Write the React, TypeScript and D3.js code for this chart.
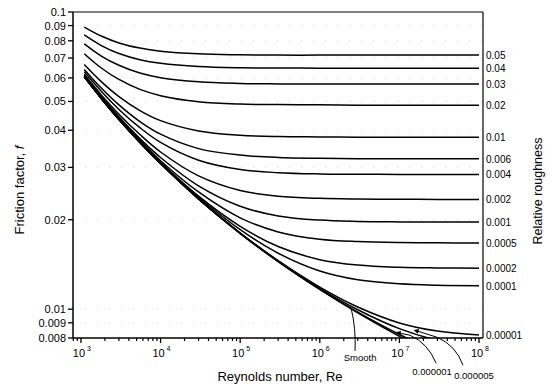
// Moody-type friction factor chart (Colebrook curves) drawn with d3 scales
import * as d3 from "d3"

const reynolds = [1100, 1800, 3000, 5500, 1e4, 3e4, 1e5, 3e5, 1e6, 3e6, 1e7, 3e7, 1e8]

// friction factor read for each relative roughness
const f0_05 = [0.089, 0.083, 0.0787, 0.0756, 0.0738, 0.0723, 0.0718, 0.0716, 0.0716, 0.0716, 0.0716, 0.0716, 0.0716]
const f0_04 = [0.0837, 0.0771, 0.0725, 0.0691, 0.0672, 0.0655, 0.0649, 0.0648, 0.0647, 0.0647, 0.0647, 0.0647, 0.0647]
const f0_03 = [0.0781, 0.0711, 0.0662, 0.0623, 0.0601, 0.0582, 0.0575, 0.0573, 0.0572, 0.0572, 0.0572, 0.0572, 0.0572]
const f0_02 = [0.0724, 0.0648, 0.0593, 0.0549, 0.0523, 0.0499, 0.049, 0.0488, 0.0487, 0.0486, 0.0486, 0.0486, 0.0486]
const f0_01 = [0.0666, 0.0583, 0.0519, 0.0466, 0.0431, 0.0398, 0.0385, 0.0381, 0.038, 0.0379, 0.0379, 0.0379, 0.0379]
const f0_006 = [0.0641, 0.0555, 0.0487, 0.0428, 0.0388, 0.0347, 0.033, 0.0324, 0.0322, 0.0321, 0.0321, 0.0321, 0.0321]
const f0_004 = [0.0629, 0.0541, 0.047, 0.0408, 0.0364, 0.0317, 0.0295, 0.0288, 0.02853, 0.02846, 0.0284, 0.0284, 0.0284]
const f0_002 = [0.0617, 0.0526, 0.0453, 0.0387, 0.0338, 0.0281, 0.0251, 0.024, 0.0236, 0.02348, 0.02344, 0.0234, 0.0234]
const f0_001 = [0.0612, 0.0519, 0.0444, 0.0375, 0.0324, 0.026, 0.0222, 0.0206, 0.01994, 0.01974, 0.01967, 0.01965, 0.01964]
const f0_0005 = [0.0609, 0.0515, 0.044, 0.037, 0.0316, 0.0248, 0.0203, 0.0182, 0.0172, 0.01688, 0.01675, 0.01672, 0.0167]
const f0_0002 = [0.0606, 0.0513, 0.0437, 0.0366, 0.0312, 0.024, 0.019, 0.01625, 0.01468, 0.01408, 0.01384, 0.01377, 0.01374]
const f0_0001 = [0.0606, 0.0512, 0.0436, 0.0365, 0.031, 0.0238, 0.01852, 0.01543, 0.01344, 0.01256, 0.01217, 0.01204, 0.012]
const f0_00001 = [0.0605, 0.0512, 0.0435, 0.0364, 0.0309, 0.0235, 0.01805, 0.01457, 0.01187, 0.01017, 0.00899, 0.00844, 0.00819]
const f0_000005 = [0.0605, 0.0512, 0.0435, 0.0364, 0.0309, 0.0235, 0.018, 0.01452, 0.01176, 0.00996, 0.0086, 0.00786, 0.00747]
const f0_000001 = [0.0605, 0.0512, 0.0435, 0.0364, 0.0309, 0.0235, 0.018, 0.01447, 0.01167, 0.00977, 0.00822, 0.00718, 0.00643]
const fSmooth = [0.0605, 0.0512, 0.0435, 0.0364, 0.0309, 0.0235, 0.018, 0.01446, 0.01165, 0.00972, 0.0081, 0.00695, 0.00594]

// curves labelled at the right edge
const rightLabels = ["0.05", "0.04", "0.03", "0.02", "0.01", "0.006", "0.004", "0.002", "0.001", "0.0005", "0.0002", "0.0001", "0.00001"]
const rightSeries = [f0_05, f0_04, f0_03, f0_02, f0_01, f0_006, f0_004, f0_002, f0_001, f0_0005, f0_0002, f0_0001, f0_00001]
const allSeries = [...rightSeries, f0_000005, f0_000001, fSmooth]

// axis ticks
const yTicks = [0.1, 0.09, 0.08, 0.07, 0.06, 0.05, 0.04, 0.03, 0.02, 0.01, 0.009, 0.008]
const yTickLabels = ["0.1", "0.09", "0.08", "0.07", "0.06", "0.05", "0.04", "0.03", "0.02", "0.01", "0.009", "0.008"]
const xDecades = [3, 4, 5, 6, 7, 8]

// callouts below the plot: point on curve (Re, f)
const callouts = [
  { text: "Smooth", re: 2.47e6, f: 0.0101, arrow: false, path: "M0,0 Q5,20 4,43", lx: 9, ly: 53 },
  { text: "0.000001", re: 1.02e7, f: 0.0083, arrow: true, path: "M0,0 L10,2 Q28,10 36,30", lx: 32, ly: 42 },
  { text: "0.000005", re: 1.71e7, f: 0.00843, arrow: true, path: "M0,0 L19,6 Q38,14 45,34", lx: 56, ly: 48 },
]

const W = 552
const H = 387
const margin = { top: 12, right: 69, bottom: 49, left: 73 }
const FONT = "'Liberation Sans', Arial, Helvetica, sans-serif"

export default function App() {
  const left = margin.left
  const right = W - margin.right
  const top = margin.top
  const bottom = H - margin.bottom

  const x = d3.scaleLog().domain([10 ** 2.9, 10 ** 8.05]).range([left, right])
  const y = d3.scaleLog().domain([0.008, 0.1]).range([bottom, top])

  const line = d3.line<number>()
    .x((_, i) => x(reynolds[i]))
    .y(d => y(d))
    .curve(d3.curveCatmullRom.alpha(0.5))

  // minor ticks on the Re axis
  const minor: number[] = []
  for (let e = 2; e <= 8; e++) {
    for (let m = 2; m <= 9; m++) {
      const v = m * 10 ** e
      if (v >= x.domain()[0] && v <= x.domain()[1]) minor.push(v)
    }
  }

  return (
    <svg width={W} height={H} style={{ position: "absolute", left: 0, top: 0, background: "#fff" }} fontFamily={FONT}>
      <defs>
        <clipPath id="plot">
          <rect x={left} y={top} width={right - left} height={bottom - top} />
        </clipPath>
        <marker id="arrow" viewBox="0 0 10 10" refX="1" refY="5" markerWidth="7" markerHeight="5" orient="auto-start-reverse">
          <path d="M0,0 L10,5 L0,10 z" fill="#000" />
        </marker>
      </defs>

      {/* faint dotted grid */}
      {yTicks.slice(1, -1).map(t => (
        <line key={t} x1={left} x2={right} y1={y(t)} y2={y(t)} stroke="#777" strokeWidth={1} strokeDasharray="1 11" opacity={0.35} />
      ))}

      {/* curves */}
      <g clipPath="url(#plot)">
        {allSeries.map((s, i) => (
          <path key={i} d={line(s) ?? ""} fill="none" stroke="#000" strokeWidth={1.5} />
        ))}
      </g>

      {/* frame */}
      <line x1={left} x2={right} y1={top} y2={top} stroke="#000" strokeWidth={1.2} />
      <line x1={left} x2={left} y1={top} y2={bottom} stroke="#000" strokeWidth={1.5} />
      <line x1={right} x2={right} y1={top} y2={bottom} stroke="#000" strokeWidth={1.2} />
      <line x1={left} x2={right} y1={bottom} y2={bottom} stroke="#000" strokeWidth={1.5} />

      {/* y axis */}
      {yTicks.map((t, i) => (
        <g key={t}>
          <line x1={left - 5} x2={left} y1={y(t)} y2={y(t)} stroke="#000" strokeWidth={1.3} />
          <text x={left - 7} y={y(t) + 4} fontSize={11} textAnchor="end">{yTickLabels[i]}</text>
        </g>
      ))}

      {/* x axis */}
      {minor.map(v => (
        <line key={v} x1={x(v)} x2={x(v)} y1={bottom} y2={bottom + 3} stroke="#000" strokeWidth={1.2} />
      ))}
      {xDecades.map(e => (
        <g key={e}>
          <line x1={x(10 ** e)} x2={x(10 ** e)} y1={bottom} y2={bottom + 5} stroke="#000" strokeWidth={1.3} />
          <text x={x(10 ** e) - 2} y={bottom + 19} fontSize={11} textAnchor="middle">10</text>
          <text x={x(10 ** e) + 6} y={bottom + 13} fontSize={7}>{e}</text>
        </g>
      ))}

      {/* right-hand roughness labels */}
      {rightSeries.map((s, i) => (
        <text key={i} x={right + 3} y={y(s[s.length - 1]) + 4} fontSize={10}>{rightLabels[i]}</text>
      ))}

      {/* callouts */}
      {callouts.map(c => {
        const cx = x(c.re)
        const cy = y(c.f)
        return (
          <g key={c.text} transform={`translate(${cx},${cy})`}>
            <path d={c.path} fill="none" stroke="#000" strokeWidth={1} markerStart={c.arrow ? "url(#arrow)" : undefined} />
            <text x={c.lx} y={c.ly} fontSize={9.5} textAnchor="middle">{c.text}</text>
          </g>
        )
      })}

      {/* axis titles */}
      <text x={(left + right) / 2 + 2} y={H - 6} fontSize={13} textAnchor="middle">Reynolds number, Re</text>
      <text transform={`translate(24,${(top + bottom) / 2 + 15}) rotate(-90)`} fontSize={13} textAnchor="middle">
        Friction factor,{"  "}<tspan fontStyle="italic">f</tspan>
      </text>
      <text transform={`translate(542,${(top + bottom) / 2 + 16}) rotate(-90)`} fontSize={12.5} textAnchor="middle">Relative roughness</text>
    </svg>
  )
}
